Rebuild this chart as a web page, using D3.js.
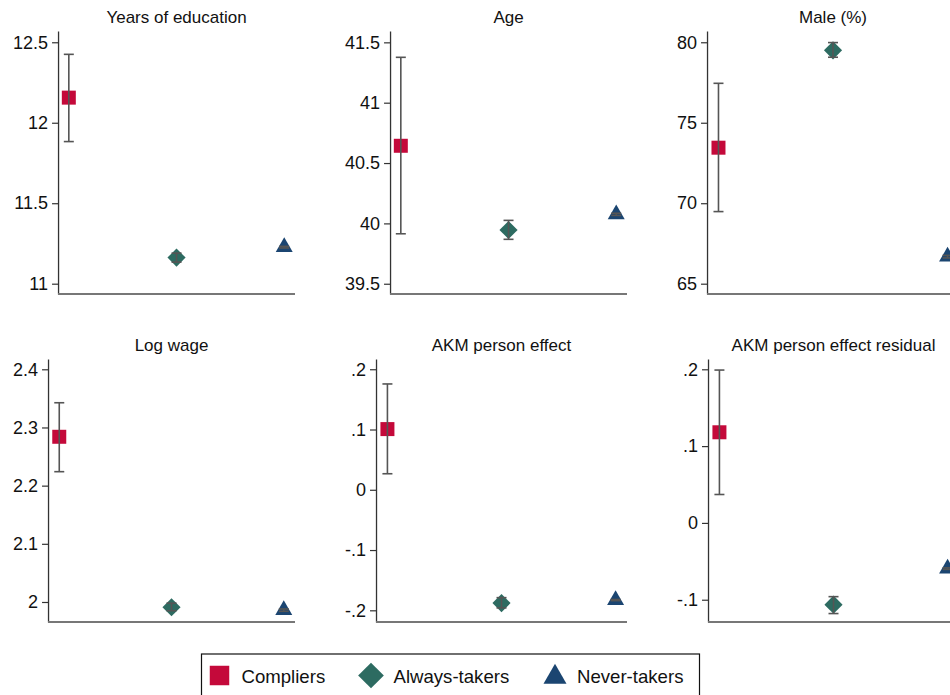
<!DOCTYPE html>
<html>
<head>
<meta charset="utf-8">
<script src="https://cdn.jsdelivr.net/npm/d3@7"></script>
<style>
body{margin:0;background:#fff}
text{font-family:"Liberation Sans",Arial,sans-serif;fill:#111}
</style>
</head>
<body>
<svg id="chart" width="950" height="695"></svg>
<script>
// values
const groups = ['Compliers', 'Always-takers', 'Never-takers']
const panelTitles = ['Years of education', 'Age', 'Male (%)', 'Log wage', 'AKM person effect', 'AKM person effect residual']

const compliers   = [12.156, 40.643, 73.45, 2.284, 0.1007, 0.118]
const compliersLo = [11.883, 39.914, 69.48, 2.224, 0.0266, 0.037]
const compliersHi = [12.425, 41.376, 77.45, 2.3425, 0.1756, 0.199]

const always   = [11.162, 39.945, 79.50, 1.991, -0.188, -0.1064]
const alwaysLo = [11.134, 39.868, 79.07, 1.985, -0.196, -0.118]
const alwaysHi = [11.190, 40.025, 79.98, 1.998, -0.179, -0.096]

const never   = [11.227, 40.075, 66.68, 1.986, -0.183, -0.0595]
const neverLo = [11.222, 40.066, 66.60, 1.984, -0.184, -0.0605]
const neverHi = [11.232, 40.084, 66.76, 1.988, -0.182, -0.0585]

const yTicks = [
  [11, 11.5, 12, 12.5],
  [39.5, 40, 40.5, 41, 41.5],
  [65, 70, 75, 80],
  [2, 2.1, 2.2, 2.3, 2.4],
  [-0.2, -0.1, 0, 0.1, 0.2],
  [-0.1, 0, 0.1, 0.2]
]
const yTickLabels = [
  ['11', '11.5', '12', '12.5'],
  ['39.5', '40', '40.5', '41', '41.5'],
  ['65', '70', '75', '80'],
  ['2', '2.1', '2.2', '2.3', '2.4'],
  ['-.2', '-.1', '0', '.1', '.2'],
  ['-.1', '0', '.1', '.2']
]
const yDomains = [
  [10.936, 12.57],
  [39.415, 41.594],
  [64.36, 80.70],
  [1.9656, 2.4177],
  [-0.2194, 0.217],
  [-0.129, 0.2134]
]

const colors = ['#C4093A', '#2D6B61', '#1B4571']
const shapes = [d3.symbolSquare, d3.symbolSquare, d3.symbolTriangle]
const rotate = [0, 45, 0]
const markSize = [196, 165, 125]
const legendSize = [380, 330, 229]

// layout
const svg = d3.select('#chart')
const panelW = 332, rowH = 328
const plotTop = 31, plotBottom = 294, plotRight = 295, labelLeft = 11

const series = [
  {est: compliers, lo: compliersLo, hi: compliersHi},
  {est: always, lo: alwaysLo, hi: alwaysHi},
  {est: never, lo: neverLo, hi: neverHi}
]

panelTitles.forEach((title, i) => {
  const g = svg.append('g')
    .attr('transform', `translate(${(i % 3) * panelW},${Math.floor(i / 3) * rowH})`)

  // measure widest tick label to place the y axis like Stata does
  const probe = g.append('g')
  let maxW = 0
  yTickLabels[i].forEach(t => {
    const el = probe.append('text').attr('font-size', 18).text(t)
    maxW = Math.max(maxW, el.node().getComputedTextLength())
  })
  probe.remove()
  const axisX = labelLeft + maxW + 12

  const x = d3.scaleLinear().domain([0.9, 3.1]).range([axisX, plotRight])
  const y = d3.scaleLinear().domain(yDomains[i]).range([plotBottom, plotTop])

  g.append('text')
    .attr('x', (axisX + plotRight) / 2)
    .attr('y', 22.5)
    .attr('text-anchor', 'middle')
    .attr('font-size', 17)
    .text(title)

  const yAxis = g.append('g')
    .attr('transform', `translate(${axisX},0)`)
    .call(d3.axisLeft(y).tickValues(yTicks[i]).tickFormat((d, k) => yTickLabels[i][k])
      .tickSize(6).tickPadding(4).tickSizeOuter(0))
  yAxis.select('.domain').attr('stroke', '#333').attr('stroke-width', 1.3)
  yAxis.selectAll('.tick line').attr('stroke', '#333').attr('stroke-width', 1.2)
  yAxis.selectAll('.tick text').attr('font-size', 18).attr('fill', '#111')
    .attr('font-family', '"Liberation Sans",Arial,sans-serif')

  g.append('line')
    .attr('x1', axisX).attr('x2', plotRight)
    .attr('y1', plotBottom).attr('y2', plotBottom)
    .attr('stroke', '#777').attr('stroke-width', 2)

  series.forEach((s, k) => {
    g.append('path')
      .attr('d', d3.symbol().type(shapes[k]).size(markSize[k])())
      .attr('transform', `translate(${x(k + 1)},${y(s.est[i])}) rotate(${rotate[k]})`)
      .attr('fill', colors[k])

    // confidence interval with caps
    const ci = g.append('g').attr('stroke', '#555').attr('stroke-width', 1.6)
    ci.append('line')
      .attr('x1', x(k + 1)).attr('x2', x(k + 1))
      .attr('y1', y(s.lo[i])).attr('y2', y(s.hi[i]))
    ;[s.lo[i], s.hi[i]].forEach(v => {
      ci.append('line')
        .attr('x1', x(k + 1) - 5).attr('x2', x(k + 1) + 5)
        .attr('y1', y(v)).attr('y2', y(v))
    })
  })
})

// legend
const legend = svg.append('g')
legend.append('rect')
  .attr('x', 201.5).attr('y', 654).attr('width', 498).attr('height', 60)
  .attr('fill', 'none').attr('stroke', '#111').attr('stroke-width', 1.2)

const legendMarkX = [219.5, 371, 555]
const legendTextX = [241.5, 393.5, 577]
groups.forEach((name, k) => {
  legend.append('path')
    .attr('d', d3.symbol().type(shapes[k]).size(legendSize[k])())
    .attr('transform', `translate(${legendMarkX[k]},${k == 2 ? 677 : 675.5}) rotate(${rotate[k]})`)
    .attr('fill', colors[k])
  legend.append('text')
    .attr('x', legendTextX[k]).attr('y', 683)
    .attr('font-size', 18.6)
    .text(name)
})
</script>
</body>
</html>
